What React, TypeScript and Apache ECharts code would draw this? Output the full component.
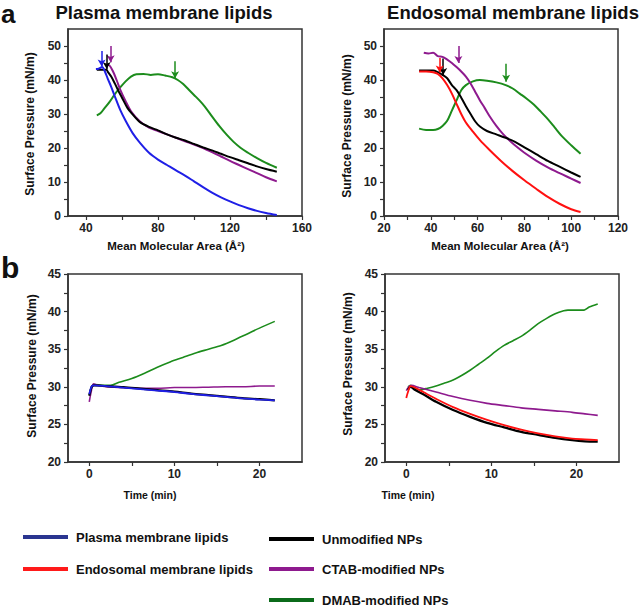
import React, { useEffect, useRef } from "react";
import * as echarts from "echarts";

// ---------- data ----------
// Panel a, plasma membrane lipids: [mean molecular area (Å²), surface pressure (mN/m)]
const plasmaLipids = [[45.5,43.2],[47,43.3],[49,43.8],[50.5,42.5],[52,40.5],[54,38],[56,35.2],[59,31.2],[62,28],[66,24.3],[70,21.5],[75,18.6],[80,16.6],[85,15],[90,13.4],[95,11.9],[100,10.2],[105,8.5],[110,6.9],[115,5.5],[120,4.3],[125,3.2],[130,2.3],[135,1.5],[140,0.9],[146,0.3]];
const plasmaUnmodified = [[46,43],[48,43],[50,43],[51.5,43],[52,42.5],[54,41],[56,39],[58,36.8],[60,34.8],[63,31.8],[66,29.8],[70,27.6],[75,26.2],[80,25.2],[85,24],[90,23],[95,22.2],[100,21.2],[105,20.2],[110,19.3],[115,18.3],[120,17.3],[125,16.4],[130,15.5],[135,14.6],[140,13.8],[146,13]];
const plasmaCTAB = [[51,44.5],[53,44.3],[55,42.5],[57,40],[59,37.2],[62,33.8],[65,30.8],[70,27.8],[75,26],[80,25],[85,24],[90,23],[95,22],[100,21],[105,20],[110,18.8],[115,17.5],[120,16.2],[125,15],[130,13.8],[135,12.6],[140,11.4],[146,10.2]];
const plasmaDMAB = [[46,29.6],[48,30.2],[50,31.5],[53,33.5],[56,35.8],[59,37.8],[62,39.6],[65,41],[68,41.7],[72,41.8],[76,41.5],[80,41.7],[84,41.3],[88,40.8],[91,40],[94,38.8],[97,37.2],[100,35.6],[103,34],[106,32.2],[110,29.3],[114,26.5],[118,24],[122,21.8],[126,20],[130,18.6],[135,17],[140,15.6],[146,14.2]];

// Panel a, endosomal membrane lipids
const endoLipids = [[35,42.5],[38,42.5],[41,42.3],[43,41.8],[45,40.5],[47,38.5],[49,36],[51,33],[53,30],[55,27.5],[58,24.8],[61,22.3],[65,19.5],[70,16.2],[75,13.2],[80,10.5],[85,8],[90,5.6],[95,3.6],[100,2],[104,1.2]];
const endoUnmodified = [[35,42.8],[38,42.8],[41,42.8],[43,42.3],[45,41.5],[47,40.5],[49,38.5],[51,37],[53,34.8],[55,32.3],[57,30],[59,27.8],[61,26.3],[64,25],[68,24],[72,23],[76,21.8],[80,20.2],[85,18.2],[90,16.2],[95,14.5],[100,12.8],[104,11.5]];
const endoCTAB = [[37,48],[39,47.8],[41,48],[43,47],[45,46.8],[47,46],[49,45],[51,43.8],[53,42.5],[55,41],[57,39],[59,36.5],[61,34],[63,31.8],[65,29.5],[68,26.5],[71,24],[74,22],[77,20.2],[80,18.6],[85,16.3],[90,14.3],[95,12.6],[100,11],[104,9.7]];
const endoDMAB = [[35,25.7],[38,25.3],[41,25.3],[43,25.6],[45,26.5],[47,28],[49,31],[51,34],[53,37],[55,38.5],[58,39.6],[61,40],[64,39.8],[68,39.3],[72,38.5],[75,37.5],[78,36],[81,34.5],[84,32.8],[87,30.7],[90,28.5],[93,26],[96,23.5],[100,20.8],[104,18.3]];

// Arrows: [area, pressure start, pressure end]
const arrowPlasmaLipids = [48.7, 48.5, 44.0];
const arrowPlasmaUnmodified = [51.5, 47.5, 43.2];
const arrowPlasmaCTAB = [53.7, 50, 45.2];
const arrowPlasmaDMAB = [89.5, 45.5, 40.5];
const arrowEndoLipids = [43.8, 46.5, 42.2];
const arrowEndoUnmodified = [45.3, 46.3, 41.5];
const arrowEndoCTAB = [51.8, 50, 45];
const arrowEndoDMAB = [72.2, 44.8, 39.5];

// Panel b, plasma membrane lipids: [time (min), surface pressure (mN/m)]
const kinPlasmaLipids = [[0,29.0],[0.3,30.1],[0.6,30.2],[2,30.1],[4,29.9],[6,29.7],[8,29.5],[10,29.3],[12,29.05],[14,28.85],[16,28.65],[18,28.45],[20,28.3],[21.8,28.2]];
const kinPlasmaUnmodified = [[0,28.8],[0.3,30.0],[0.6,30.2],[2,30.1],[4,29.95],[6,29.75],[8,29.55],[10,29.35],[12,29.1],[14,28.9],[16,28.7],[18,28.5],[20,28.35],[21.8,28.2]];
const kinPlasmaCTAB = [[0,28.0],[0.2,29.2],[0.5,30.4],[1,30.2],[2,30.0],[4,29.9],[6,29.8],[8,29.8],[10,29.9],[12,29.9],[14,29.95],[16,30.0],[18,30.0],[20,30.1],[21.8,30.1]];
const kinPlasmaDMAB = [[0,28.9],[0.3,30.1],[0.6,30.3],[1.5,30.2],[2.5,30.2],[3.5,30.6],[5,31.1],[6.5,31.8],[8,32.6],[9.5,33.3],[11,33.9],[12.5,34.5],[14,35.0],[15.5,35.5],[17,36.2],[18.5,37.0],[20,37.8],[21.8,38.7]];

// Panel b, endosomal membrane lipids
const kinEndoLipids = [[0,28.5],[0.2,29.3],[0.5,30.1],[1,29.9],[2,29.3],[3.5,28.4],[5.5,27.3],[7.5,26.4],[9.5,25.6],[11.5,24.9],[13.5,24.3],[15.5,23.8],[17.5,23.4],[19.5,23.1],[21,23.0],[22.5,22.9]];
const kinEndoUnmodified = [[0.2,29.6],[0.5,30.0],[1,29.6],[2,29.0],[3.5,28.0],[5.5,26.9],[7.5,26.0],[9.5,25.2],[11.5,24.6],[13.5,24.0],[15.5,23.6],[17.5,23.2],[19.5,22.9],[21,22.75],[22.5,22.7]];
const kinEndoCTAB = [[0,29.5],[0.3,30.0],[0.6,30.2],[1.5,29.9],[3.5,29.3],[5.5,28.7],[7.5,28.2],[9.5,27.8],[11.5,27.5],[13.5,27.2],[15.5,27.0],[17.5,26.8],[19.5,26.6],[21,26.4],[22.5,26.2]];
const kinEndoDMAB = [[0.2,30.0],[0.5,30.2],[1,29.8],[1.5,29.6],[2.5,29.8],[3.5,30.1],[4.5,30.5],[5.5,30.9],[6.5,31.5],[7.5,32.2],[8.5,33],[9.5,33.8],[10.5,34.7],[11.5,35.5],[12.5,36.1],[13.5,36.7],[14.5,37.5],[15.5,38.4],[16.5,39.1],[17.5,39.7],[18.5,40.1],[19,40.2],[20,40.2],[20.9,40.2],[21.5,40.6],[22.5,41.0]];

// Axis ticks / labels
const areaPlasmaLabels = [40, 80, 120, 160];
const areaPlasmaTicks = [40, 60, 80, 100, 120, 140, 160];
const areaEndoLabels = [20, 40, 60, 80, 100, 120];
const areaEndoTicks = [20, 30, 40, 50, 60, 70, 80, 90, 100, 110, 120];
const pressureLabelsA = [0, 10, 20, 30, 40, 50];
const pressureTicksA = [0, 5, 10, 15, 20, 25, 30, 35, 40, 45, 50];
const timeLabels = [0, 10, 20];
const timeTicks = [0, 5, 10, 15, 20];
const pressureLabelsB = [20, 25, 30, 35, 40, 45];
const pressureTicksB = [20, 22.5, 25, 27.5, 30, 32.5, 35, 37.5, 40, 42.5, 45];

const NAMES = {
  plasma: "Plasma membrane lipids",
  endo: "Endosomal membrane lipids",
  unmod: "Unmodified NPs",
  ctab: "CTAB-modified NPs",
  dmab: "DMAB-modified NPs",
};

const COLORS = {
  plasma: "#1f1fe6",
  endo: "#ff1010",
  unmod: "#000000",
  ctab: "#8e1a8e",
  dmab: "#1c8c1c",
};
const LEGEND_COLORS = {
  plasma: "#2a3590",
  endo: "#ff1a1a",
  unmod: "#000000",
  ctab: "#8e1a8e",
  dmab: "#0b6b1a",
};

const FONT = '"Liberation Sans", Arial, sans-serif';

export default function App() {
  const ref = useRef<HTMLDivElement>(null);
  useEffect(() => {
    if (!ref.current) return;
    const chart = echarts.init(ref.current, undefined, { renderer: "svg" });

    const grids = [
      { left: 68, top: 29, width: 234, height: 187 },
      { left: 384, top: 29, width: 234, height: 187 },
      { left: 68, top: 274, width: 234, height: 188 },
      { left: 385, top: 274, width: 234, height: 188 },
    ].map((g) => ({ ...g, show: true, borderColor: "#333", borderWidth: 1.5, backgroundColor: "transparent" }));

    const axisCommon = {
      axisLine: { show: true, onZero: false, lineStyle: { color: "#333", width: 1.5 } },
      splitLine: { show: false },
      axisTick: { show: true, length: 4, lineStyle: { color: "#333", width: 1.2 } },
      axisLabel: { color: "#222", fontWeight: "bold", fontSize: 12, fontFamily: FONT },
    };
    const mkX = (gridIndex: number, min: number, max: number, labels: number[], ticks: number[]) => ({
      type: "value", gridIndex, min, max,
      ...axisCommon,
      axisTick: { ...axisCommon.axisTick, customValues: ticks },
      axisLabel: { ...axisCommon.axisLabel, margin: 6, customValues: labels },
    });
    const mkY = (gridIndex: number, min: number, max: number, labels: number[], ticks: number[]) => ({
      type: "value", gridIndex, min, max,
      ...axisCommon,
      axisTick: { ...axisCommon.axisTick, customValues: ticks },
      axisLabel: { ...axisCommon.axisLabel, margin: 7, customValues: labels },
    });

    const arrow = (a: number[], color: string) => ({
      silent: true,
      symbol: ["none", "arrow"],
      symbolSize: [6, 7],
      label: { show: false },
      lineStyle: { color, width: 1.5, type: "solid" },
      emphasis: { disabled: true },
      data: [[{ coord: [a[0], a[1]] }, { coord: [a[0], a[2]] }]],
    });

    const line = (key: keyof typeof NAMES, data: number[][], idx: number, width: number, arr?: number[]) => ({
      type: "line",
      name: NAMES[key],
      xAxisIndex: idx,
      yAxisIndex: idx,
      data,
      smooth: 0.3,
      showSymbol: false,
      symbol: "none",
      color: COLORS[key],
      lineStyle: { color: COLORS[key], width },
      itemStyle: { color: COLORS[key] },
      ...(arr ? { markLine: arrow(arr, COLORS[key]) } : {}),
    });

    const textEl = (text: string, x: number, y: number, font: string, rotation = 0, align = "center") => ({
      type: "text",
      x, y, rotation,
      style: { text, font, fill: "#111", align, verticalAlign: "middle" },
    });

    const legendItem = (key: keyof typeof NAMES, left: number, centerY: number) => ({
      orient: "horizontal",
      icon: "rect",
      itemWidth: 45,
      itemHeight: 4,
      padding: 0,
      left,
      top: centerY - 8,
      selectedMode: false,
      textStyle: { fontFamily: FONT, fontWeight: "bold", fontSize: 13, color: "#111", padding: [0, 0, 0, 3], lineHeight: 16 },
      data: [{ name: NAMES[key], itemStyle: { color: LEGEND_COLORS[key] } }],
    });

    chart.setOption({
      animation: false,
      backgroundColor: "#fff",
      grid: grids,
      xAxis: [
        mkX(0, 30, 160, areaPlasmaLabels, areaPlasmaTicks),
        mkX(1, 20, 120, areaEndoLabels, areaEndoTicks),
        mkX(2, -2.5, 25, timeLabels, timeTicks),
        mkX(3, -2.5, 25, timeLabels, timeTicks),
      ],
      yAxis: [
        mkY(0, 0, 55, pressureLabelsA, pressureTicksA),
        mkY(1, 0, 55, pressureLabelsA, pressureTicksA),
        mkY(2, 20, 45, pressureLabelsB, pressureTicksB),
        mkY(3, 20, 45, pressureLabelsB, pressureTicksB),
      ],
      legend: [
        legendItem("plasma", 23, 537),
        legendItem("endo", 23, 569),
        legendItem("unmod", 269, 539),
        legendItem("ctab", 269, 569),
        legendItem("dmab", 269, 600),
      ],
      series: [
        line("dmab", plasmaDMAB, 0, 2, arrowPlasmaDMAB),
        line("ctab", plasmaCTAB, 0, 2, arrowPlasmaCTAB),
        line("unmod", plasmaUnmodified, 0, 2, arrowPlasmaUnmodified),
        line("plasma", plasmaLipids, 0, 2, arrowPlasmaLipids),
        line("dmab", endoDMAB, 1, 2, arrowEndoDMAB),
        line("ctab", endoCTAB, 1, 2, arrowEndoCTAB),
        line("unmod", endoUnmodified, 1, 2, arrowEndoUnmodified),
        line("endo", endoLipids, 1, 2, arrowEndoLipids),
        line("dmab", kinPlasmaDMAB, 2, 1.6),
        line("ctab", kinPlasmaCTAB, 2, 1.6),
        line("unmod", kinPlasmaUnmodified, 2, 2.2),
        line("plasma", kinPlasmaLipids, 2, 1.8),
        line("dmab", kinEndoDMAB, 3, 1.6),
        line("ctab", kinEndoCTAB, 3, 1.6),
        line("unmod", kinEndoUnmodified, 3, 2.2),
        line("endo", kinEndoLipids, 3, 1.8),
      ],
      graphic: [
        textEl("a", 1, 13.5, `bold 26px ${FONT}`, 0, "left"),
        textEl("b", 1, 267, `bold 30px ${FONT}`, 0, "left"),
        textEl("Plasma membrane lipids", 164, 12, `bold 18.5px ${FONT}`),
        textEl("Endosomal membrane lipids", 513, 12, `bold 18.5px ${FONT}`),
        textEl("Surface Pressure (mN/m)", 30, 124, `bold 12px ${FONT}`, Math.PI / 2),
        textEl("Surface Pressure (mN/m)", 347, 126, `bold 12px ${FONT}`, Math.PI / 2),
        textEl("Surface Pressure (mN/m)", 32, 366, `bold 12px ${FONT}`, Math.PI / 2),
        textEl("Surface Pressure (mN/m)", 348, 364, `bold 12px ${FONT}`, Math.PI / 2),
        textEl("Mean Molecular Area (Å²)", 176, 246, `bold 11.5px ${FONT}`),
        textEl("Mean Molecular Area (Å²)", 500, 246, `bold 11.5px ${FONT}`),
        textEl("Time (min)", 150, 495, `bold 10.5px ${FONT}`),
        textEl("Time (min)", 408, 495, `bold 10.5px ${FONT}`),
      ],
    });
    return () => chart.dispose();
  }, []);

  return (
    <div
      ref={ref}
      style={{ position: "fixed", left: 0, top: 0, width: 642, height: 608, background: "#fff" }}
    />
  );
}
